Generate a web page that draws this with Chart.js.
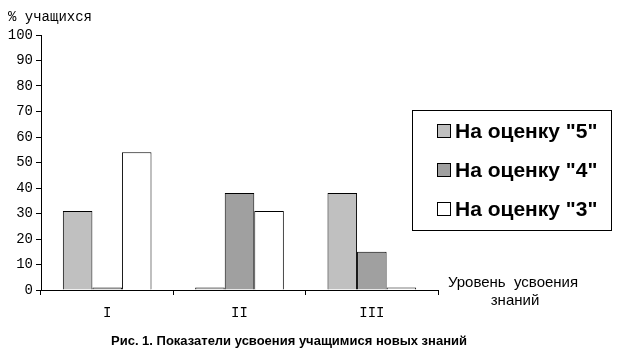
<!DOCTYPE html>
<html>
<head>
<meta charset="utf-8">
<script src="https://cdn.jsdelivr.net/npm/chart.js@4"></script>
<style>
  html, body { margin: 0; padding: 0; background: #fff; }
  #wrap { width: 624px; height: 360px; position: relative; }
</style>
</head>
<body>
<div id="wrap"><canvas id="chart" width="624" height="360"></canvas></div>
<script>
// Data
const levels = ['I', 'II', 'III'];
const seriesNames = ['На оценку "5"', 'На оценку "4"', 'На оценку "3"'];
const grade5 = [31, 1, 38];
const grade4 = [1, 38, 15];
const grade3 = [54, 31, 1];
const yTicks = [0, 10, 20, 30, 40, 50, 60, 70, 80, 90, 100];

const mono = '"Liberation Mono", "DejaVu Sans Mono", monospace';
const sans = '"Liberation Sans", Arial, sans-serif';
const colors = ['#c0c0c0', '#a0a0a0', '#ffffff'];

// Legend box + free texts drawn on canvas
const extras = {
  id: 'extras',
  afterDraw(chart) {
    const ctx = chart.ctx;
    ctx.save();

    // y-axis title
    ctx.fillStyle = '#000';
    ctx.font = '14px ' + mono;
    ctx.textAlign = 'left';
    ctx.textBaseline = 'middle';
    ctx.fillText('% учащихся', 8, 17);

    // x-axis title (right of plot)
    ctx.font = '15px ' + sans;
    ctx.textAlign = 'center';
    ctx.fillText('Уровень  усвоения', 513, 283);
    ctx.fillText('знаний', 515, 301);

    // caption
    ctx.font = 'bold 13px ' + sans;
    ctx.fillText('Рис. 1. Показатели усвоения учащимися новых знаний', 289, 341);

    // legend
    ctx.lineWidth = 1;
    ctx.strokeStyle = '#000';
    ctx.strokeRect(412.5, 110.5, 199, 120);
    ctx.font = 'bold 21px ' + sans;
    ctx.textAlign = 'left';
    chart.data.datasets.forEach((ds, i) => {
      const cy = 131 + i * 39;
      ctx.fillStyle = ds.backgroundColor;
      ctx.fillRect(437.5, cy - 6.5, 13, 13);
      ctx.strokeRect(437.5, cy - 6.5, 13, 13);
      ctx.fillStyle = '#000';
      ctx.fillText(ds.label, 455, cy + 1);
    });
    ctx.restore();
  }
};

const mk = (label, data, i) => ({
  label: label,
  data: data,
  backgroundColor: colors[i],
  borderColor: '#000',
  borderWidth: 1,
  borderSkipped: 'bottom',
  categoryPercentage: 0.67,
  barPercentage: 1.0
});

new Chart(document.getElementById('chart'), {
  type: 'bar',
  data: {
    labels: levels,
    datasets: [
      mk(seriesNames[0], grade5, 0),
      mk(seriesNames[1], grade4, 1),
      mk(seriesNames[2], grade3, 2)
    ]
  },
  options: {
    responsive: false,
    animation: false,
    layout: { padding: { left: 0, right: 186, top: 35, bottom: 40 } },
    plugins: {
      legend: { display: false },
      tooltip: { enabled: false }
    },
    scales: {
      x: {
        grid: { display: true, drawOnChartArea: false, offset: true, color: '#000', tickLength: 5 },
        border: { color: '#000', width: 1 },
        ticks: { color: '#000', font: { family: mono, size: 14 }, padding: 10 },
        afterFit(scale) { scale.height = 30; }
      },
      y: {
        min: 0,
        max: 100,
        afterBuildTicks(scale) { scale.ticks = yTicks.map(v => ({ value: v })); },
        grid: { display: true, drawOnChartArea: false, color: '#000', tickLength: 5 },
        border: { color: '#000', width: 1 },
        ticks: { color: '#000', font: { family: mono, size: 14 }, padding: 3 },
        afterFit(scale) { scale.width = 41; }
      }
    }
  },
  plugins: [extras]
});
</script>
</body>
</html>
